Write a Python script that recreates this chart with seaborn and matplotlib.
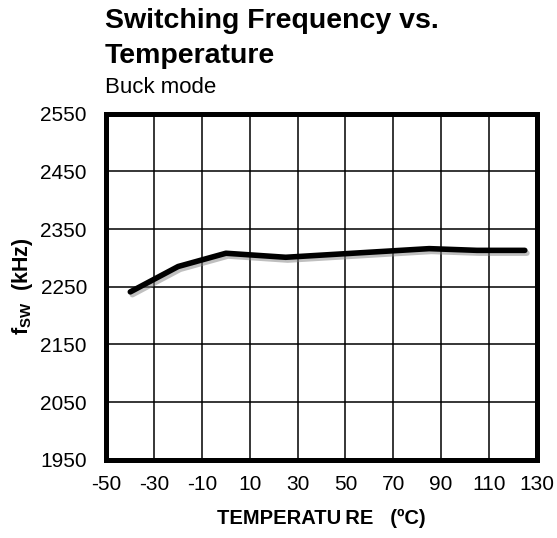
import matplotlib
matplotlib.use("Agg")
import matplotlib.pyplot as plt
import matplotlib.patheffects as pe
import seaborn as sns
import pandas as pd

temperature = [-40, -20, 0, 25, 85, 105, 125]
fsw_khz = [2241, 2285, 2308, 2301, 2316, 2313, 2313]
x_ticks = [-50, -30, -10, 10, 30, 50, 70, 90, 110, 130]
y_ticks = [1950, 2050, 2150, 2250, 2350, 2450, 2550]

sns.set_style("white")
plt.rcParams['font.family'] = ['Liberation Sans', 'DejaVu Sans']
plt.rcParams['text.color'] = 'black'
plt.rcParams['axes.labelcolor'] = 'black'
plt.rcParams['xtick.color'] = 'black'
plt.rcParams['ytick.color'] = 'black'
plt.rcParams['mathtext.fontset'] = 'custom'
plt.rcParams['mathtext.rm'] = 'Liberation Sans'
plt.rcParams['mathtext.bf'] = 'Liberation Sans:bold'
plt.rcParams['mathtext.it'] = 'Liberation Sans:italic'

df = pd.DataFrame({"T": temperature, "f": fsw_khz})

fig = plt.figure(figsize=(5.57, 5.38), dpi=100)
ax = fig.add_axes([0.191, 0.1454, 0.7727, 0.6434])

sns.lineplot(data=df, x="T", y="f", ax=ax, color="black", linewidth=4.0,
             path_effects=[pe.SimpleLineShadow(offset=(1.5, -2), shadow_color='gray', alpha=0.5),
                           pe.Normal()])

ax.set_xlim(-50, 130)
ax.set_ylim(1950, 2550)
ax.set_xticks(x_ticks)
ax.set_yticks(y_ticks)
ax.set_xticklabels([str(v) for v in x_ticks], fontsize=15)
ax.set_yticklabels([str(v) for v in y_ticks], fontsize=15)
ax.tick_params(axis='both', length=0)
ax.tick_params(axis='x', pad=11)
ax.tick_params(axis='y', pad=14)
ax.grid(True, color='black', linewidth=1.1)
ax.set_axisbelow(True)
for s in ax.spines.values():
    s.set_visible(True)
    s.set_color('black')
    s.set_linewidth(3.6)

ax.set_xlabel("TEMPERATU\u2009RE   (ºC)", fontsize=14.5, fontweight='bold', labelpad=11)
ax.set_ylabel(r"$\mathbf{f_{SW}}$  (kHz)", fontsize=15.5, fontweight='bold', labelpad=4)

fig.text(105/557, 1-28/538, "Switching Frequency vs.", fontsize=20.5, fontweight='bold', va='baseline', ha='left')
fig.text(105/557, 1-63/538, "Temperature", fontsize=20.5, fontweight='bold', va='baseline', ha='left')
fig.text(105/557, 1-93/538, "Buck mode", fontsize=16, va='baseline', ha='left')

fig.savefig("out.png", dpi=100)
